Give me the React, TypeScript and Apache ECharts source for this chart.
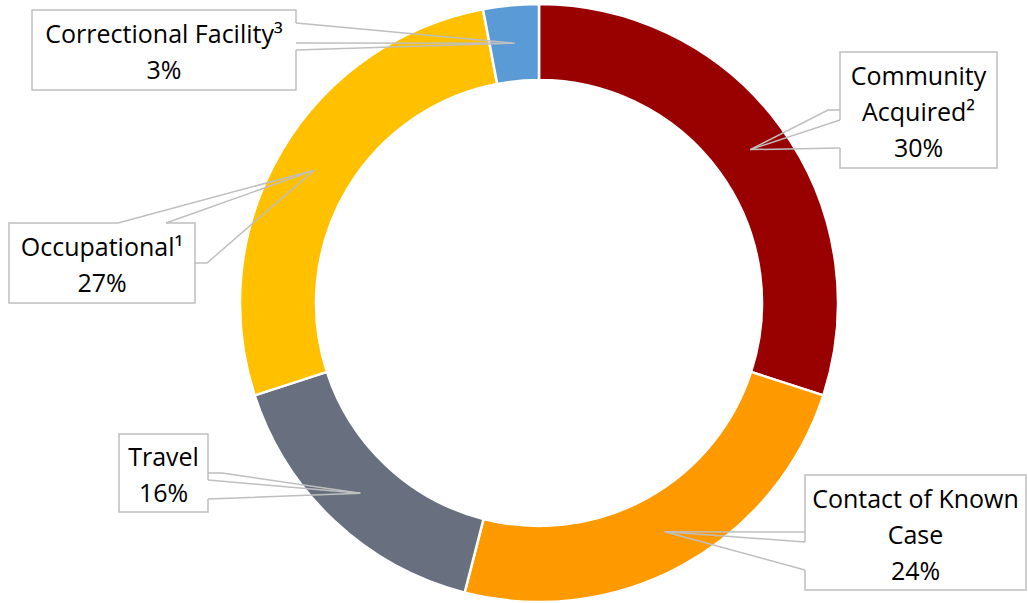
import React, { useEffect, useRef } from "react";
import * as echarts from "echarts";

// ---- data ----
const categories = ["Community Acquired²", "Contact of Known Case", "Travel", "Occupational¹", "Correctional Facility³"];
const labelText = [["Community", "Acquired²"], ["Contact of Known", "Case"], ["Travel"], ["Occupational¹"], ["Correctional Facility³"]];
const percentages = [30, 24, 16, 27, 3];
const colors = ["#990000", "#FF9900", "#687080", "#FFC000", "#5B9BD5"];

// ---- layout (label boxes & callout bases) ----
const CX = 539;
const CY = 303;
const R_IN = 223;
const R_OUT = 299;
const boxes = [
  { x: 840, y: 52, w: 157, h: 116, leader: [[840, 110], [828, 110]], wedge: [[840, 120], [840, 148]] },
  { x: 805, y: 475, w: 221, h: 115, leader: [[805, 532]], wedge: [[805, 542], [805, 570]] },
  { x: 119, y: 434, w: 89, h: 78, leader: [[208, 473], [222, 473]], wedge: [[208, 480], [208, 499]] },
  { x: 9, y: 223, w: 186, h: 80, leader: [[195, 263], [207, 263]], wedge: [[118, 223], [166, 223]] },
  { x: 32, y: 10, w: 264, h: 80, leader: [[296, 43]], wedge: [[296, 23], [296, 50]] },
];

const FONT = "'Open Sans', sans-serif";
const LINE = "#BFBFBF";

export default function App() {
  const ref = useRef<HTMLDivElement>(null);
  useEffect(() => {
    if (!ref.current) return;
    const chart = echarts.init(ref.current, null, { renderer: "svg" });
    const total = percentages.reduce((a, b) => a + b, 0);
    const rMid = (R_IN + R_OUT) / 2;
    let cum = 0;
    const graphics: any[] = [];
    percentages.forEach((v, i) => {
      const midFrac = (cum + v / 2) / total;
      cum += v;
      const ang = ((90 - midFrac * 360) * Math.PI) / 180;
      const ax = CX + rMid * Math.cos(ang);
      const ay = CY - rMid * Math.sin(ang);
      const b = boxes[i];
      graphics.push({
        type: "rect",
        z: 100,
        shape: { x: b.x, y: b.y, width: b.w, height: b.h },
        style: { fill: "#fff", stroke: LINE, lineWidth: 1.5 },
      });
      graphics.push({
        type: "line",
        z: 101,
        shape: { x1: b.wedge[0][0], y1: b.wedge[0][1], x2: b.wedge[1][0], y2: b.wedge[1][1] },
        style: { stroke: "#fff", lineWidth: 2 },
      });
      graphics.push({
        type: "polyline",
        z: 102,
        shape: { points: [b.wedge[0], [ax, ay], b.wedge[1]] },
        style: { stroke: LINE, lineWidth: 1.5, fill: null },
      });
      graphics.push({
        type: "polyline",
        z: 102,
        shape: { points: [...b.leader, [ax, ay]] },
        style: { stroke: LINE, lineWidth: 1.5, fill: null },
      });
      const lines = [...labelText[i], `${Math.round((v / total) * 100)}%`];
      graphics.push({
        type: "text",
        z: 103,
        x: b.x + b.w / 2,
        y: b.y + b.h / 2 + 1,
        style: {
          text: lines.join("\n"),
          fontFamily: FONT,
          fontSize: 25,
          lineHeight: 36,
          fill: "#000",
          align: "center",
          verticalAlign: "middle",
          textAlign: "center",
          textVerticalAlign: "middle",
        },
      });
    });

    chart.setOption({
      animation: false,
      backgroundColor: "#fff",
      series: [
        {
          type: "pie",
          center: [CX, CY],
          radius: [R_IN, R_OUT],
          startAngle: 90,
          clockwise: true,
          label: { show: false },
          labelLine: { show: false },
          emphasis: { disabled: true },
          itemStyle: { borderColor: "#fff", borderWidth: 2.5 },
          data: categories.map((name, i) => ({
            name,
            value: percentages[i],
            itemStyle: { color: colors[i] },
          })),
        },
      ],
      graphic: graphics,
    });
    return () => chart.dispose();
  }, []);
  return (
    <div
      ref={ref}
      style={{ position: "fixed", left: 0, top: 0, width: 1028, height: 603 }}
    />
  );
}
